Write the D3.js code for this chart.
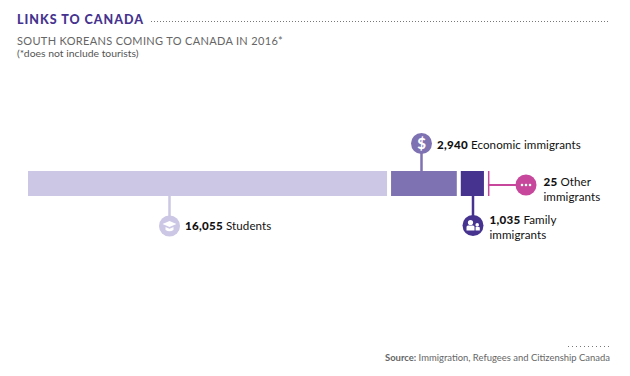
<!DOCTYPE html>
<html>
<head>
<meta charset="utf-8">
<script src="https://cdn.jsdelivr.net/npm/d3@7"></script>
<style>
  html, body { margin: 0; padding: 0; background: #fff; }
  text { font-family: Lato, "Open Sans", sans-serif; }
</style>
</head>
<body>
<div id="chart"></div>
<script>
// Data
const categories = ['Students', 'Economic immigrants', 'Family immigrants', 'Other immigrants'];
const values = [16055, 2940, 1035, 25];
const valueLabels = ['16,055', '2,940', '1,035', '25'];
const colors = ['#cbc7e4', '#7f72b2', '#45338f', '#c6479b'];

const width = 630;
const height = 376;
const barTop = 171;
const barHeight = 25;
const gap = 4;

const svg = d3.select('#chart').append('svg')
    .attr('width', width)
    .attr('height', height)
    .style('display', 'block');

// Header
svg.append('text').attr('x', 17).attr('y', 24)
    .attr('fill', '#45338f').attr('font-size', 12.5).attr('font-weight', 900)
    .attr('letter-spacing', 1.0).text('LINKS TO CANADA');

svg.append('line')
    .attr('x1', 151).attr('x2', 608).attr('y1', 21.5).attr('y2', 21.5)
    .attr('stroke', '#777').attr('stroke-width', 1).attr('stroke-dasharray', '1 2');

svg.append('text').attr('x', 17).attr('y', 45)
    .attr('fill', '#666').attr('font-size', 11).attr('letter-spacing', 0.33)
    .text('SOUTH KOREANS COMING TO CANADA IN 2016*');

svg.append('text').attr('x', 17).attr('y', 57)
    .attr('fill', '#555').attr('font-size', 10.4)
    .text('(*does not include tourists)');

// Bars: one linear scale, small gap between the segments
const x = d3.scaleLinear()
    .domain([0, d3.sum(values)])
    .range([28, 476.5]);

let running = 0;
const segments = values.map((v, i) => {
    const x0 = x(running) + gap * i;
    const x1 = Math.max(x(running + v) + gap * i, x0 + 1.5);
    running += v;
    return { i, x0, x1 };
});

svg.selectAll('rect.bar')
    .data(segments)
    .enter()
    .append('rect')
    .attr('class', 'bar')
    .attr('x', d => d.x0)
    .attr('y', barTop)
    .attr('width', d => d.x1 - d.x0)
    .attr('height', barHeight)
    .attr('fill', d => colors[d.i]);

// Callouts: leader line, icon disc, label
const callouts = [
    { i: 0, cx: 169.5, cy: 226, tx: 185, ty: 230, rest: [' Students'] },
    { i: 1, cx: 421.5, cy: 143.5, tx: 437, ty: 149, rest: [' Economic immigrants'] },
    { i: 2, cx: 473, cy: 225.5, tx: 489.5, ty: 224, rest: [' Family', 'immigrants'] },
    { i: 3, cx: 526, cy: 185, tx: 543.5, ty: 186, rest: [' Other', 'immigrants'] }
];

callouts.forEach(c => {
    const color = colors[c.i];
    const seg = segments[c.i];

    if (c.i === 3) {
        svg.append('line').attr('x1', seg.x0).attr('x2', c.cx)
            .attr('y1', c.cy).attr('y2', c.cy)
            .attr('stroke', color).attr('stroke-width', 2);
    } else {
        svg.append('line').attr('x1', c.cx).attr('x2', c.cx)
            .attr('y1', c.i === 1 ? barTop : barTop + barHeight).attr('y2', c.cy)
            .attr('stroke', color).attr('stroke-width', 2.5);
    }

    svg.append('circle').attr('cx', c.cx).attr('cy', c.cy).attr('r', 10.5).attr('fill', color);

    const label = svg.append('text').attr('x', c.tx).attr('y', c.ty)
        .attr('font-size', 11.6).attr('fill', '#111');
    label.append('tspan').attr('font-weight', 900).attr('letter-spacing', 0.25).text(valueLabels[c.i]);
    label.append('tspan').attr('letter-spacing', 0.08).text(c.rest[0]);
    if (c.rest[1]) {
        label.append('tspan').attr('x', c.tx).attr('dy', 15).attr('letter-spacing', 0.08).text(c.rest[1]);
    }
});

// Icons
const icon = (c) => svg.append('g').attr('transform', `translate(${c.cx},${c.cy})`);

// graduation cap
const cap = icon(callouts[0]);
cap.append('path').attr('d', 'M-7,-2 L0,-5 L7,-2 L0,1 Z').attr('fill', '#fff');
cap.append('path').attr('d', 'M-4,1 L0,2.7 L4,1 L4,4 Q0,6.5 -4,4 Z').attr('fill', '#fff');

// dollar sign
icon(callouts[1]).append('text')
    .attr('text-anchor', 'middle').attr('y', 5.5)
    .attr('font-size', 15).attr('font-weight', 900).attr('fill', '#fff').text('$');

// two people
const fam = icon(callouts[2]);
fam.append('circle').attr('cx', -2.5).attr('cy', -3).attr('r', 2.6).attr('fill', '#fff');
fam.append('path').attr('d', 'M-6.5,5 L-6.5,1.5 Q-6.5,0 -5,0 L0,0 Q1.5,0 1.5,1.5 L1.5,5 Z').attr('fill', '#fff');
fam.append('circle').attr('cx', 4.2).attr('cy', -0.6).attr('r', 1.8).attr('fill', '#fff');
fam.append('path').attr('d', 'M2.6,5 L2.6,2 Q2.6,1.5 3.2,1.5 L6,1.5 Q6.8,1.5 6.8,2.2 L6.8,5 Z').attr('fill', '#fff');

// three dots
const dots = icon(callouts[3]);
[-4, 0, 4].forEach(dx => {
    dots.append('circle').attr('cx', dx).attr('cy', 0).attr('r', 1.3).attr('fill', '#fff');
});

// Source
svg.append('line')
    .attr('x1', 568).attr('x2', 610).attr('y1', 346.5).attr('y2', 346.5)
    .attr('stroke', '#777').attr('stroke-width', 1).attr('stroke-dasharray', '1 3');

const source = svg.append('text').attr('x', 610).attr('y', 361)
    .attr('text-anchor', 'end').attr('font-size', 9.45).attr('fill', '#666');
source.append('tspan').attr('font-weight', 700).text('Source:');
source.append('tspan').text(' Immigration, Refugees and Citizenship Canada');
</script>
</body>
</html>
